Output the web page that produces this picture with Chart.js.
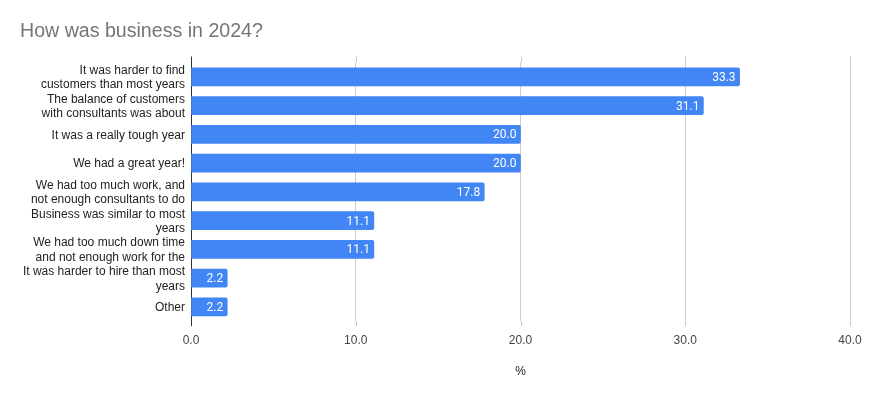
<!DOCTYPE html>
<html>
<head>
<meta charset="utf-8">
<script src="https://cdn.jsdelivr.net/npm/chart.js@4"></script>
<style>
	html, body { margin: 0; padding: 0; background: #fff; }
	#wrap { width: 870px; height: 398px; }
</style>
</head>
<body>
<div id="wrap"><canvas id="grafico"></canvas></div>
<script>
// categorias (rótulos cortados em duas linhas como no original)
const categorias = [
	['It was harder to find', 'customers than most years'],
	['The balance of customers', 'with consultants was about'],
	'It was a really tough year',
	'We had a great year!',
	['We had too much work, and', 'not enough consultants to do'],
	['Business was similar to most', 'years'],
	['We had too much down time', 'and not enough work for the'],
	['It was harder to hire than most', 'years'],
	'Other'
];
const percentuais = [33.3, 31.1, 20.0, 20.0, 17.8, 11.1, 11.1, 2.2, 2.2];
const ticksX = [0, 10, 20, 30, 40];

const fonte = "'Liberation Sans', Arial, sans-serif";

// escreve o valor dentro da ponta de cada barra
const rotulosDasBarras = {
	id: 'rotulosDasBarras',
	afterDatasetsDraw(chart) {
		const ctx = chart.ctx;
		const meta = chart.getDatasetMeta(0);
		ctx.save();
		ctx.font = '12px Roboto';
		ctx.fillStyle = '#ffffff';
		ctx.textAlign = 'right';
		ctx.textBaseline = 'middle';
		meta.data.forEach((barra, i) => {
			ctx.fillText(percentuais[i].toFixed(1), barra.x - 4, barra.y + 1);
		});
		ctx.restore();
	}
};

// prolonga as linhas de grade um pouco acima e abaixo da área do gráfico
const prolongaGrade = {
	id: 'prolongaGrade',
	beforeDatasetsDraw(chart) {
		const ctx = chart.ctx;
		const area = chart.chartArea;
		const x = chart.scales.x;
		ctx.save();
		ctx.lineWidth = 1;
		ticksX.forEach(v => {
			const px = Math.round(x.getPixelForValue(v)) + 0.5;
			ctx.strokeStyle = v === 0 ? '#333333' : '#cccccc';
			ctx.beginPath();
			ctx.moveTo(px, area.top - 6);
			ctx.lineTo(px, area.top);
			ctx.moveTo(px, area.bottom);
			ctx.lineTo(px, area.bottom + 5);
			ctx.stroke();
		});
		ctx.restore();
	}
};

function montaGrafico() {
	const ctx = document.getElementById('grafico');
	return new Chart(ctx, {
		type: 'bar',
		data: {
			labels: categorias,
			datasets: [{
				data: percentuais,
				backgroundColor: '#4285f4',
				borderRadius: 2,
				borderSkipped: 'start',
				barThickness: 18
			}]
		},
		options: {
			indexAxis: 'y',
			responsive: true,
			maintainAspectRatio: false,
			animation: false,
			layout: { padding: { left: 20, right: 20, top: 0, bottom: 19 } },
			scales: {
				x: {
					min: 0,
					max: 40,
					afterBuildTicks: (scale) => { scale.ticks = ticksX.map(v => ({ value: v })); },
					afterFit: (scale) => { scale.paddingRight = 0; },
					grid: {
						color: (c) => c.tick && c.tick.value === 0 ? 'rgba(0,0,0,0)' : '#cccccc',
						drawTicks: false
					},
					border: { display: false },
					ticks: {
						padding: 12,
						color: '#444444',
						font: { family: fonte, size: 12 },
						callback: (v) => Number(v).toFixed(1)
					},
					title: {
						display: true,
						text: '%',
						color: '#222222',
						font: { family: fonte, size: 12 },
						padding: { top: 5, bottom: 0 }
					}
				},
				y: {
					afterFit: (scale) => { scale.width = 171; },
					grid: { display: false, drawTicks: false },
					border: { display: true, color: '#333333', width: 1 },
					ticks: {
						autoSkip: false,
						padding: 6,
						labelOffset: 1,
						color: '#222222',
						font: { family: fonte, size: 12, lineHeight: 1.2 }
					}
				}
			},
			plugins: {
				legend: { display: false },
				tooltip: { enabled: false },
				title: {
					display: true,
					text: 'How was business in 2024?',
					align: 'start',
					color: '#757575',
					font: { family: fonte, size: 19.6, weight: 'normal' },
					padding: { top: 20, bottom: 19 }
				}
			}
		},
		plugins: [rotulosDasBarras, prolongaGrade]
	});
}

window.onload = () => {
	montaGrafico();
}
</script>
</body>
</html>
